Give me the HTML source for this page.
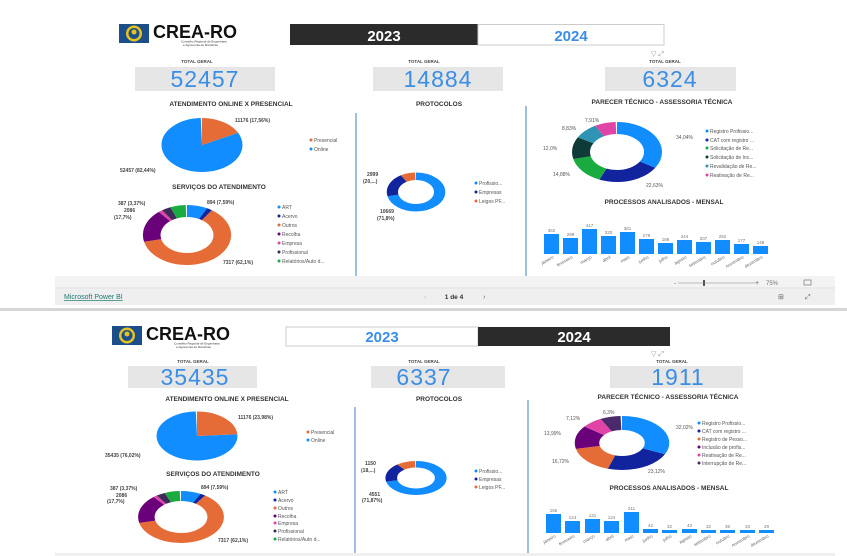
<!DOCTYPE html>
<html><head><meta charset="utf-8"><style>
html,body{margin:0;padding:0;background:#fff;}
svg{display:block;font-family:"Liberation Sans",Arial,sans-serif;}
.t{font-size:6.5px;font-weight:bold;fill:#333;text-anchor:middle}
.tg{font-size:4.5px;font-weight:bold;fill:#444;text-anchor:middle}
.v{font-size:23px;fill:#3a8ee6;text-anchor:middle;letter-spacing:1px}
.l{font-size:5px;fill:#555}
.lb{font-size:5px;fill:#444;font-weight:bold}
.bv{font-size:4.5px;fill:#777;text-anchor:middle}
.m{font-size:4.5px;fill:#666;text-anchor:end}
</style></head><body>
<svg width="847" height="556" viewBox="0 0 847 556" xmlns="http://www.w3.org/2000/svg">
<defs>
<g id="logo">
<rect x="0" y="0" width="30" height="19" fill="#1c4f8a"/>
<circle cx="15" cy="9.5" r="8" fill="#e8c21f"/>
<circle cx="15" cy="9.5" r="5.5" fill="#1c4f8a"/>
<circle cx="15" cy="8" r="2.5" fill="#e8c21f"/>
<text x="34" y="14" font-size="18" font-weight="bold" fill="#111" font-family="Liberation Sans, sans-serif">CREA-RO</text>
<text x="62" y="18.5" font-size="3" fill="#333">Conselho Regional de Engenharia</text>
<text x="64" y="22" font-size="3" fill="#333">e Agronomia de Rondônia</text>
</g>
</defs>

<!-- ============ TOP PANEL (2023) ============ -->
<use href="#logo" x="119" y="24"/>
<rect x="290" y="24" width="188" height="21" fill="#2b2b2b"/>
<text x="384" y="41" font-size="15" font-weight="bold" fill="#fff" text-anchor="middle">2023</text>
<rect x="478" y="24.5" width="186" height="20.5" fill="#fff" stroke="#ccc"/>
<text x="571" y="41" font-size="15" font-weight="bold" fill="#3a8ee6" text-anchor="middle">2024</text>
<text x="651" y="56" font-size="7" fill="#999">▽  ⤢</text>

<text class="tg" x="197" y="63">TOTAL GERAL</text>
<text class="tg" x="424" y="63">TOTAL GERAL</text>
<text class="tg" x="665" y="63">TOTAL GERAL</text>
<rect x="135" y="67" width="140" height="24" fill="#e6e6e6"/>
<rect x="373" y="67" width="130" height="24" fill="#e6e6e6"/>
<rect x="605" y="67" width="131" height="24" fill="#e6e6e6"/>
<text class="v" x="205" y="87">52457</text>
<text class="v" x="438" y="87">14884</text>
<text class="v" x="670" y="87">6324</text>

<text class="t" x="231" y="106">ATENDIMENTO ONLINE X PRESENCIAL</text>
<text class="t" x="439" y="106">PROTOCOLOS</text>
<text class="t" x="662" y="104">PARECER TÉCNICO - ASSESSORIA TÉCNICA</text>
<line x1="356" y1="113" x2="356" y2="276" stroke="#3a7fc4" stroke-width="1"/>
<line x1="526" y1="106" x2="526" y2="276" stroke="#3a7fc4" stroke-width="1"/>

<!-- pie 2023 -->
<g transform="translate(202 145) scale(1.5 1) rotate(-90)" fill="none" stroke-width="27">
<circle r="13.5" pathLength="100" stroke="#118dff" stroke-dasharray="82.44 100" stroke-dashoffset="-17.56"/>
<circle r="13.5" pathLength="100" stroke="#e66c37" stroke-dasharray="17.56 100"/>
</g>
<text class="lb" x="235" y="122">11176 (17,56%)</text>
<text class="lb" x="120" y="172">52457 (82,44%)</text>
<circle cx="311" cy="140" r="1.5" fill="#e66c37"/><text class="l" x="314" y="142">Presencial</text>
<circle cx="311" cy="149" r="1.5" fill="#118dff"/><text class="l" x="314" y="151">Online</text>

<text class="t" x="219" y="189" font-size="7.5">SERVIÇOS DO ATENDIMENTO</text>
<g transform="translate(187 235) scale(1.47 1) rotate(-90)" fill="none" stroke-width="12">
<circle r="24" pathLength="100" stroke="#118dff" stroke-dasharray="7.59 100"/>
<circle r="24" pathLength="100" stroke="#12239e" stroke-dasharray="2 100" stroke-dashoffset="-7.59"/>
<circle r="24" pathLength="100" stroke="#e66c37" stroke-dasharray="62.1 100" stroke-dashoffset="-9.59"/>
<circle r="24" pathLength="100" stroke="#6b007b" stroke-dasharray="17.7 100" stroke-dashoffset="-71.69"/>
<circle r="24" pathLength="100" stroke="#e044a7" stroke-dasharray="1.5 100" stroke-dashoffset="-89.39"/>
<circle r="24" pathLength="100" stroke="#3b2a5a" stroke-dasharray="3.37 100" stroke-dashoffset="-90.89"/>
<circle r="24" pathLength="100" stroke="#1aab40" stroke-dasharray="5.74 100" stroke-dashoffset="-94.26"/>
</g>
<text class="lb" x="118" y="205">387 (3,37%)</text>
<text class="lb" x="124" y="212">2086</text>
<text class="lb" x="114" y="219">(17,7%)</text>
<text class="lb" x="207" y="204">894 (7,59%)</text>
<text class="lb" x="223" y="264">7317 (62,1%)</text>
<g class="l">
<circle cx="279" cy="207" r="1.5" fill="#118dff"/><text x="282" y="209">ART</text>
<circle cx="279" cy="216" r="1.5" fill="#12239e"/><text x="282" y="218">Acervo</text>
<circle cx="279" cy="225" r="1.5" fill="#e66c37"/><text x="282" y="227">Outros</text>
<circle cx="279" cy="234" r="1.5" fill="#6b007b"/><text x="282" y="236">Recolha</text>
<circle cx="279" cy="243" r="1.5" fill="#e044a7"/><text x="282" y="245">Empresa</text>
<circle cx="279" cy="252" r="1.5" fill="#3b2a5a"/><text x="282" y="254">Profissional</text>
<circle cx="279" cy="261" r="1.5" fill="#1aab40"/><text x="282" y="263">Relatórios/Auto d...</text>
</g>

<!-- protocols 2023 -->
<g transform="translate(416 192) scale(1.5 1) rotate(-90)" fill="none" stroke-width="7.5">
<circle r="15.75" pathLength="100" stroke="#118dff" stroke-dasharray="71.8 100"/>
<circle r="15.75" pathLength="100" stroke="#12239e" stroke-dasharray="20 100" stroke-dashoffset="-71.8"/>
<circle r="15.75" pathLength="100" stroke="#e66c37" stroke-dasharray="8.2 100" stroke-dashoffset="-91.8"/>
</g>
<text class="lb" x="367" y="176">2999</text>
<text class="lb" x="363" y="183">(20,...)</text>
<text class="lb" x="380" y="213">10669</text>
<text class="lb" x="377" y="220">(71,8%)</text>
<g class="l">
<circle cx="476" cy="183" r="1.5" fill="#118dff"/><text x="479" y="185">Profissio...</text>
<circle cx="476" cy="192" r="1.5" fill="#12239e"/><text x="479" y="194">Empresas</text>
<circle cx="476" cy="201" r="1.5" fill="#e66c37"/><text x="479" y="203">Leigos PF...</text>
</g>

<!-- parecer 2023 -->
<g transform="translate(617 152) scale(1.5 1) rotate(-90)" fill="none" stroke-width="12">
<circle r="24" pathLength="100" stroke="#118dff" stroke-dasharray="34.04 100"/>
<circle r="24" pathLength="100" stroke="#12239e" stroke-dasharray="22.63 100" stroke-dashoffset="-34.04"/>
<circle r="24" pathLength="100" stroke="#1aab40" stroke-dasharray="14.88 100" stroke-dashoffset="-56.67"/>
<circle r="24" pathLength="100" stroke="#0e3b38" stroke-dasharray="12 100" stroke-dashoffset="-71.55"/>
<circle r="24" pathLength="100" stroke="#2f93b3" stroke-dasharray="8.83 100" stroke-dashoffset="-83.55"/>
<circle r="24" pathLength="100" stroke="#e044a7" stroke-dasharray="7.62 100" stroke-dashoffset="-92.38"/>
</g>
<g class="l" font-size="4.5">
<text x="585" y="122">7,91%</text><text x="562" y="130">8,83%</text><text x="543" y="150">12,0%</text>
<text x="553" y="176">14,88%</text><text x="646" y="187">22,63%</text><text x="676" y="139">34,04%</text>
</g>
<g class="l">
<circle cx="707" cy="131" r="1.5" fill="#118dff"/><text x="710" y="133">Registro Profissio...</text>
<circle cx="707" cy="140" r="1.5" fill="#12239e"/><text x="710" y="142">CAT com registro ...</text>
<circle cx="707" cy="148" r="1.5" fill="#1aab40"/><text x="710" y="150">Solicitação de Re...</text>
<circle cx="707" cy="157" r="1.5" fill="#0e3b38"/><text x="710" y="159">Solicitação de Inc...</text>
<circle cx="707" cy="166" r="1.5" fill="#2f93b3"/><text x="710" y="168">Revalidação de Re...</text>
<circle cx="707" cy="175" r="1.5" fill="#e044a7"/><text x="710" y="177">Reativação de Re...</text>
</g>

<text class="t" x="664" y="204" font-size="7">PROCESSOS ANALISADOS - MENSAL</text>
<g fill="#118dff">
<rect x="544" y="234" width="15" height="20"/><rect x="563" y="238" width="15" height="16"/>
<rect x="582" y="229" width="15" height="25"/><rect x="601" y="236" width="15" height="18"/>
<rect x="620" y="232" width="15" height="22"/><rect x="639" y="239" width="15" height="15"/>
<rect x="658" y="243" width="15" height="11"/><rect x="677" y="240" width="15" height="14"/>
<rect x="696" y="242" width="15" height="12"/><rect x="715" y="240" width="15" height="14"/>
<rect x="734" y="244" width="15" height="10"/><rect x="753" y="246" width="15" height="8"/>
</g>
<g class="bv">
<text x="551.5" y="232">362</text><text x="570.5" y="236">299</text><text x="589.5" y="227">417</text>
<text x="608.5" y="234">320</text><text x="627.5" y="230">361</text><text x="646.5" y="237">276</text>
<text x="665.5" y="241">188</text><text x="684.5" y="238">244</text><text x="703.5" y="240">207</text>
<text x="722.5" y="238">252</text><text x="741.5" y="242">177</text><text x="760.5" y="244">148</text>
</g>
<g class="m">
<text transform="translate(554 258) rotate(-30)">janeiro</text><text transform="translate(573 258) rotate(-30)">fevereiro</text>
<text transform="translate(592 258) rotate(-30)">março</text><text transform="translate(611 258) rotate(-30)">abril</text>
<text transform="translate(630 258) rotate(-30)">maio</text><text transform="translate(649 258) rotate(-30)">junho</text>
<text transform="translate(668 258) rotate(-30)">julho</text><text transform="translate(687 258) rotate(-30)">agosto</text>
<text transform="translate(706 258) rotate(-30)">setembro</text><text transform="translate(725 258) rotate(-30)">outubro</text>
<text transform="translate(744 258) rotate(-30)">novembro</text><text transform="translate(763 258) rotate(-30)">dezembro</text>
</g>

<!-- footer -->
<rect x="55" y="276" width="780" height="12" fill="#f3f3f3"/>
<rect x="55" y="288" width="780" height="17" fill="#efefef"/>
<line x1="55" y1="288" x2="835" y2="288" stroke="#ddd" stroke-width="0.7"/>
<text x="674" y="285" font-size="6" fill="#666">-</text>
<line x1="678" y1="283" x2="755" y2="283" stroke="#888" stroke-width="0.5"/>
<rect x="703" y="280" width="2" height="6" fill="#555"/>
<text x="755" y="285" font-size="7" fill="#666">+</text>
<text x="766" y="285" font-size="6" fill="#777">75%</text>
<rect x="804" y="280" width="7" height="5" fill="none" stroke="#777" stroke-width="0.7"/>
<text x="64" y="299" font-size="7" fill="#1b7a70" text-decoration="underline">Microsoft Power BI</text>
<text x="424" y="299" font-size="7" fill="#bbb">‹</text>
<text x="454" y="299" font-size="6.5" fill="#333" font-weight="bold" text-anchor="middle">1 de 4</text>
<text x="483" y="299" font-size="7" fill="#666">›</text>
<text x="778" y="299" font-size="7" fill="#666">⊞</text>
<text x="805" y="299" font-size="7" fill="#666">⤢</text>
<rect x="0" y="308" width="847" height="3" fill="#d6d6d6"/>

<!-- ============ BOTTOM PANEL (2024) ============ -->
<use href="#logo" x="112" y="326"/>
<rect x="286" y="327" width="192" height="19" fill="#fff" stroke="#ccc"/>
<text x="382" y="342" font-size="15" font-weight="bold" fill="#3a8ee6" text-anchor="middle">2023</text>
<rect x="478" y="327" width="192" height="19" fill="#2b2b2b"/>
<text x="574" y="342" font-size="15" font-weight="bold" fill="#fff" text-anchor="middle">2024</text>
<text x="651" y="356" font-size="7" fill="#999">▽  ⤢</text>

<text class="tg" x="193" y="363">TOTAL GERAL</text>
<text class="tg" x="424" y="363">TOTAL GERAL</text>
<text class="tg" x="672" y="363">TOTAL GERAL</text>
<rect x="128" y="366" width="129" height="22" fill="#e6e6e6"/>
<rect x="371" y="366" width="134" height="22" fill="#e6e6e6"/>
<rect x="610" y="366" width="133" height="22" fill="#e6e6e6"/>
<text class="v" x="195" y="385">35435</text>
<text class="v" x="424" y="385">6337</text>
<text class="v" x="678" y="385">1911</text>

<text class="t" x="227" y="401">ATENDIMENTO ONLINE X PRESENCIAL</text>
<text class="t" x="439" y="401">PROTOCOLOS</text>
<text class="t" x="668" y="399">PARECER TÉCNICO - ASSESSORIA TÉCNICA</text>
<line x1="355" y1="407" x2="355" y2="556" stroke="#3a7fc4" stroke-width="1"/>
<line x1="528" y1="400" x2="528" y2="556" stroke="#3a7fc4" stroke-width="1"/>

<g transform="translate(197 436) scale(1.65 1) rotate(-90)" fill="none" stroke-width="24.5">
<circle r="12.25" pathLength="100" stroke="#118dff" stroke-dasharray="76.02 100" stroke-dashoffset="-23.98"/>
<circle r="12.25" pathLength="100" stroke="#e66c37" stroke-dasharray="23.98 100"/>
</g>
<text class="lb" x="238" y="419">11176 (23,98%)</text>
<text class="lb" x="105" y="457">35435 (76,02%)</text>
<circle cx="308" cy="432" r="1.5" fill="#e66c37"/><text class="l" x="311" y="434">Presencial</text>
<circle cx="308" cy="440" r="1.5" fill="#118dff"/><text class="l" x="311" y="442">Online</text>

<text class="t" x="213" y="476" font-size="7.5">SERVIÇOS DO ATENDIMENTO</text>
<g transform="translate(181 517) scale(1.65 1) rotate(-90)" fill="none" stroke-width="10">
<circle r="21" pathLength="100" stroke="#118dff" stroke-dasharray="7.59 100"/>
<circle r="21" pathLength="100" stroke="#12239e" stroke-dasharray="2 100" stroke-dashoffset="-7.59"/>
<circle r="21" pathLength="100" stroke="#e66c37" stroke-dasharray="62.1 100" stroke-dashoffset="-9.59"/>
<circle r="21" pathLength="100" stroke="#6b007b" stroke-dasharray="17.7 100" stroke-dashoffset="-71.69"/>
<circle r="21" pathLength="100" stroke="#e044a7" stroke-dasharray="1.5 100" stroke-dashoffset="-89.39"/>
<circle r="21" pathLength="100" stroke="#3b2a5a" stroke-dasharray="3.37 100" stroke-dashoffset="-90.89"/>
<circle r="21" pathLength="100" stroke="#1aab40" stroke-dasharray="5.74 100" stroke-dashoffset="-94.26"/>
</g>
<text class="lb" x="110" y="490">387 (3,37%)</text>
<text class="lb" x="116" y="497">2086</text>
<text class="lb" x="107" y="503">(17,7%)</text>
<text class="lb" x="201" y="489">894 (7,59%)</text>
<text class="lb" x="218" y="542">7317 (62,1%)</text>
<g class="l">
<circle cx="275" cy="492" r="1.5" fill="#118dff"/><text x="278" y="494">ART</text>
<circle cx="275" cy="500" r="1.5" fill="#12239e"/><text x="278" y="502">Acervo</text>
<circle cx="275" cy="508" r="1.5" fill="#e66c37"/><text x="278" y="510">Outros</text>
<circle cx="275" cy="516" r="1.5" fill="#6b007b"/><text x="278" y="518">Recolha</text>
<circle cx="275" cy="523" r="1.5" fill="#e044a7"/><text x="278" y="525">Empresa</text>
<circle cx="275" cy="531" r="1.5" fill="#3b2a5a"/><text x="278" y="533">Profissional</text>
<circle cx="275" cy="539" r="1.5" fill="#1aab40"/><text x="278" y="541">Relatórios/Auto d...</text>
</g>

<g transform="translate(416 478) scale(1.8 1) rotate(-90)" fill="none" stroke-width="6.5">
<circle r="13.75" pathLength="100" stroke="#118dff" stroke-dasharray="71.87 100"/>
<circle r="13.75" pathLength="100" stroke="#12239e" stroke-dasharray="18.13 100" stroke-dashoffset="-71.87"/>
<circle r="13.75" pathLength="100" stroke="#e66c37" stroke-dasharray="10 100" stroke-dashoffset="-90"/>
</g>
<text class="lb" x="365" y="465">1150</text>
<text class="lb" x="361" y="472">(18,...)</text>
<text class="lb" x="369" y="496">4551</text>
<text class="lb" x="362" y="502">(71,87%)</text>
<g class="l">
<circle cx="476" cy="471" r="1.5" fill="#118dff"/><text x="479" y="473">Profissio...</text>
<circle cx="476" cy="479" r="1.5" fill="#12239e"/><text x="479" y="481">Empresas</text>
<circle cx="476" cy="487" r="1.5" fill="#e66c37"/><text x="479" y="489">Leigos PF...</text>
</g>

<g transform="translate(622 443) scale(1.75 1) rotate(-90)" fill="none" stroke-width="14">
<circle r="20" pathLength="100" stroke="#118dff" stroke-dasharray="32.02 100"/>
<circle r="20" pathLength="100" stroke="#12239e" stroke-dasharray="23.12 100" stroke-dashoffset="-32.02"/>
<circle r="20" pathLength="100" stroke="#e66c37" stroke-dasharray="16.72 100" stroke-dashoffset="-55.14"/>
<circle r="20" pathLength="100" stroke="#6b007b" stroke-dasharray="13.99 100" stroke-dashoffset="-71.86"/>
<circle r="20" pathLength="100" stroke="#e044a7" stroke-dasharray="7.12 100" stroke-dashoffset="-85.85"/>
<circle r="20" pathLength="100" stroke="#4a2a6a" stroke-dasharray="7.03 100" stroke-dashoffset="-92.97"/>
</g>
<g class="l" font-size="4.5">
<text x="603" y="414">6,3%</text><text x="566" y="420">7,12%</text><text x="544" y="435">13,99%</text>
<text x="552" y="463">16,72%</text><text x="648" y="473">23,12%</text><text x="676" y="429">32,02%</text>
</g>
<g class="l">
<circle cx="699" cy="423" r="1.5" fill="#118dff"/><text x="702" y="425">Registro Profissio...</text>
<circle cx="699" cy="431" r="1.5" fill="#12239e"/><text x="702" y="433">CAT com registro ...</text>
<circle cx="699" cy="439" r="1.5" fill="#e66c37"/><text x="702" y="441">Registro de Pesso...</text>
<circle cx="699" cy="447" r="1.5" fill="#6b007b"/><text x="702" y="449">Inclusão de profis...</text>
<circle cx="699" cy="455" r="1.5" fill="#e044a7"/><text x="702" y="457">Reativação de Re...</text>
<circle cx="699" cy="463" r="1.5" fill="#4a2a6a"/><text x="702" y="465">Interrupção de Re...</text>
</g>

<text class="t" x="669" y="490" font-size="7">PROCESSOS ANALISADOS - MENSAL</text>
<g fill="#118dff">
<rect x="546" y="514" width="15" height="19"/><rect x="565" y="521" width="15" height="12"/>
<rect x="585" y="519" width="15" height="14"/><rect x="604" y="521" width="15" height="12"/>
<rect x="624" y="512" width="15" height="21"/><rect x="643" y="529" width="15" height="4"/>
<rect x="662" y="530" width="15" height="3"/><rect x="682" y="529" width="15" height="4"/>
<rect x="701" y="530" width="15" height="3"/><rect x="720" y="530" width="15" height="3"/>
<rect x="740" y="530" width="15" height="3"/><rect x="759" y="530" width="15" height="3"/>
</g>
<g class="bv">
<text x="553.5" y="512">156</text><text x="572.5" y="519">124</text><text x="592.5" y="517">131</text>
<text x="611.5" y="519">124</text><text x="631.5" y="510">211</text><text x="650.5" y="527">42</text>
<text x="669.5" y="528">32</text><text x="689.5" y="527">43</text><text x="708.5" y="528">32</text>
<text x="727.5" y="528">36</text><text x="747.5" y="528">33</text><text x="766.5" y="528">29</text>
</g>
<g class="m">
<text transform="translate(556 537) rotate(-30)">janeiro</text><text transform="translate(575 537) rotate(-30)">fevereiro</text>
<text transform="translate(595 537) rotate(-30)">março</text><text transform="translate(614 537) rotate(-30)">abril</text>
<text transform="translate(634 537) rotate(-30)">maio</text><text transform="translate(653 537) rotate(-30)">junho</text>
<text transform="translate(672 537) rotate(-30)">julho</text><text transform="translate(692 537) rotate(-30)">agosto</text>
<text transform="translate(711 537) rotate(-30)">setembro</text><text transform="translate(730 537) rotate(-30)">outubro</text>
<text transform="translate(750 537) rotate(-30)">novembro</text><text transform="translate(769 537) rotate(-30)">dezembro</text>
</g>
<rect x="55" y="553" width="780" height="3" fill="#f0f0f0"/>
</svg>
</body></html>
